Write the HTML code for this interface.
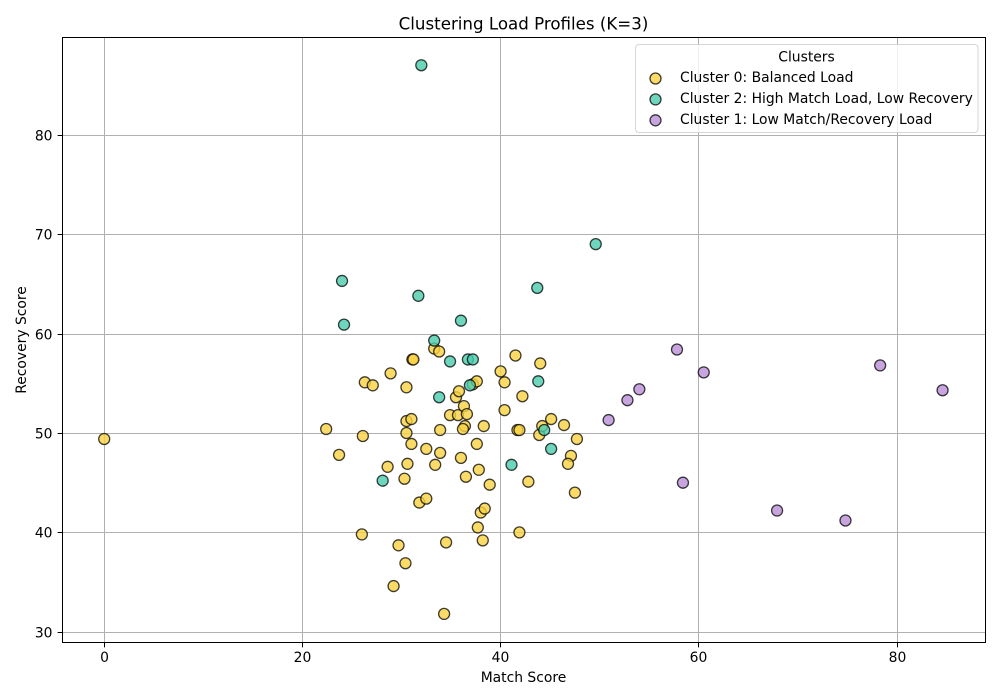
<!DOCTYPE html>
<html>
<head>
<meta charset="utf-8">
<style>
html,body{margin:0;padding:0;background:#fff;width:1000px;height:700px;overflow:hidden}
svg{display:block}
text{font-family:"DejaVu Sans","Liberation Sans",sans-serif;fill:#000}
</style>
</head>
<body>
<svg id="chart" xmlns="http://www.w3.org/2000/svg" width="1000" height="700" viewBox="0 0 1000 700">
<rect x="0" y="0" width="1000" height="700" fill="#fff"/>
<text x="523.5" y="29.5" font-size="16.67" text-anchor="middle">Clustering Load Profiles (K=3)</text>
<text x="523.5" y="682" font-size="13.89" text-anchor="middle">Match Score</text>
<text x="0" y="0" font-size="13.89" text-anchor="middle" transform="translate(26,340) rotate(-90)">Recovery Score</text>
<g id="grid"></g>
<g id="points"></g>
<g id="frame"></g>
<g id="legend"></g>
</svg>
<script>
var xTicks = [0, 20, 40, 60, 80];
var yTicks = [30, 40, 50, 60, 70, 80];

var cluster0Match = [0,22.4,23.7,26.3,27.1,26.1,26,28.9,28.6,29.7,29.2,30.4,30.3,30.6,30.5,30.5,31,30.5,31,31.1,31.2,31.8,32.5,32.5,33.3,33.8,33.4,33.9,33.9,34.3,34.5,34.9,35.5,35.8,35.7,36.3,36.6,36.4,36.2,36,36.5,37.2,37.6,37.6,37.8,37.7,38,38.4,38.2,38.3,38.9,40,40.4,40.4,41.5,41.7,41.9,41.9,42.2,42.8,43.9,44,44.2,45.1,46.4,47.1,46.8,47.7,47.5];
var cluster0Recovery = [49.4,50.4,47.8,55.1,54.8,49.7,39.8,56,46.6,38.7,34.6,36.9,45.4,46.9,54.6,51.2,51.4,50,48.9,57.4,57.4,43,43.4,48.4,58.5,58.2,46.8,50.3,48,31.8,39,51.8,53.6,54.2,51.8,52.7,51.9,50.7,50.4,47.5,45.6,54.9,55.2,48.9,46.3,40.5,42,42.4,39.2,50.7,44.8,56.2,55.1,52.3,57.8,50.3,50.3,40,53.7,45.1,49.8,57,50.7,51.4,50.8,47.7,46.9,49.4,44];

var cluster2Match = [32,49.6,24,43.7,31.7,24.2,36,33.3,34.9,36.7,37.2,36.9,43.8,33.8,44.4,45.1,41.1,28.1];
var cluster2Recovery = [87,69,65.3,64.6,63.8,60.9,61.3,59.3,57.2,57.4,57.4,54.8,55.2,53.6,50.3,48.4,46.8,45.2];

var cluster1Match = [57.8,60.5,78.3,84.6,54,52.8,50.9,58.4,67.9,74.8];
var cluster1Recovery = [58.4,56.1,56.8,54.3,54.4,53.3,51.3,45,42.2,41.2];

var legendLabels = ["Cluster 0: Balanced Load", "Cluster 2: High Match Load, Low Recovery", "Cluster 1: Low Match/Recovery Load"];

var NS = "http://www.w3.org/2000/svg";
var YELLOW = "#f9d242", TEAL = "#4bccae", PURPLE = "#ba8ed7";
var plotLeft = 62.5, plotRight = 985.5, plotTop = 37.5, plotBottom = 642.5;

function xScale(v){ return 104.2 + v * 9.91; }
function yScale(v){ return 631.8 - (v - 30) * 9.94; }
function snap(p){ return Math.floor(p) + 0.5; }

function make(tag, attrs, parent){
  var el = document.createElementNS(NS, tag);
  for (var k in attrs) el.setAttribute(k, attrs[k]);
  parent.appendChild(el);
  return el;
}

var grid = document.getElementById("grid");
var points = document.getElementById("points");
var frame = document.getElementById("frame");
var legend = document.getElementById("legend");

xTicks.forEach(function(t){
  var x = snap(xScale(t));
  var g = make("line", {x1:x, x2:x, y1:plotTop, y2:plotBottom, stroke:"#b0b0b0", "stroke-width":1}, grid);
  
  
  var m = make("line", {x1:x, x2:x, y1:plotBottom, y2:plotBottom + 4.9, stroke:"#000", "stroke-width":1}, frame);
  
  
  var l = make("text", {x:x, y:662, "font-size":13.89, "text-anchor":"middle"}, frame);
  
  
  l.textContent = t;
});

yTicks.forEach(function(t){
  var y = snap(yScale(t) + 0.5);
  var g = make("line", {x1:plotLeft, x2:plotRight, y1:y, y2:y, stroke:"#b0b0b0", "stroke-width":1}, grid);
  
  
  var m = make("line", {x1:plotLeft - 4.9, x2:plotLeft, y1:y, y2:y, stroke:"#000", "stroke-width":1}, frame);
  
  
  var l = make("text", {x:52.5, y:y + 5, "font-size":13.89, "text-anchor":"end"}, frame);
  
  
  l.textContent = t;
});

function drawDots(xs, ys, color, name){
  xs.forEach(function(v, i){
    var c = make("circle", {cx:xScale(v), cy:yScale(ys[i]), r:5.5, fill:color, "fill-opacity":0.8, stroke:"#000", "stroke-opacity":0.75, "stroke-width":1.3}, points);
    
    
  });
}
drawDots(cluster0Match, cluster0Recovery, YELLOW, 'cluster-0-point');
drawDots(cluster2Match, cluster2Recovery, TEAL, 'cluster-2-point');
drawDots(cluster1Match, cluster1Recovery, PURPLE, 'cluster-1-point');

var spine = make("rect", {x:plotLeft, y:plotTop, width:plotRight - plotLeft, height:plotBottom - plotTop, fill:"none", stroke:"#000", "stroke-width":1}, frame);



var box = make("rect", {x:635.5, y:44.5, width:342.5, height:88, rx:3.5, ry:3.5, fill:"#fff", "fill-opacity":0.8, stroke:"#ccc", "stroke-opacity":0.8, "stroke-width":1}, legend);



var legendTitle = make("text", {x:806.5, y:61.5, "font-size":13.89, "text-anchor":"middle"}, legend);


legendTitle.textContent = "Clusters";

[YELLOW, TEAL, PURPLE].forEach(function(color, i){
  var y = 78.5 + i * 20.9;
  var m = make("circle", {cx:655.5, cy:y, r:5.5, fill:color, "fill-opacity":0.8, stroke:"#000", "stroke-opacity":0.75, "stroke-width":1.3}, legend);
  
  
  var t = make("text", {x:680, y:y + 3.5, "font-size":13.89}, legend);
  
  
  t.textContent = legendLabels[i];
});
</script>
</body>
</html>
